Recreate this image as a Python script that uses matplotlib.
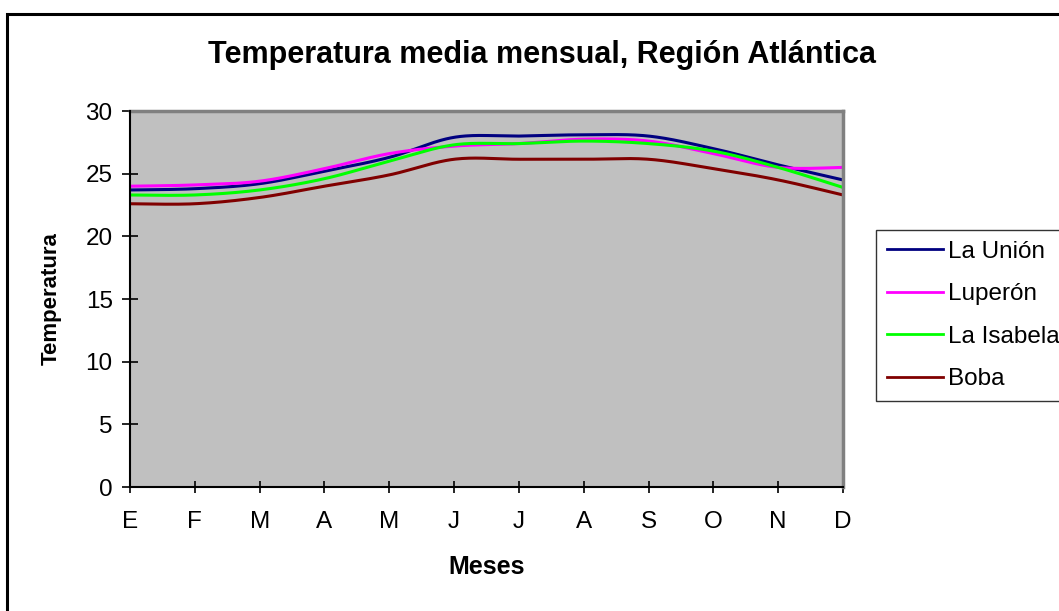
#!/usr/bin/env python3
"""Temperatura media mensual, Región Atlántica (Excel-style line chart)."""
import matplotlib
matplotlib.use("Agg")
import matplotlib.pyplot as plt
import numpy as np
from matplotlib.lines import Line2D
from matplotlib.patches import Rectangle

months = ["E", "F", "M", "A", "M", "J", "J", "A", "S", "O", "N", "D"]
la_union = [23.7, 23.8, 24.2, 25.2, 26.3, 27.9, 28.0, 28.1, 28.0, 27.0, 25.7, 24.5]
luperon = [24.0, 24.1, 24.4, 25.4, 26.6, 27.2, 27.4, 27.75, 27.6, 26.6, 25.5, 25.5]
la_isabela = [23.3, 23.3, 23.7, 24.6, 26.0, 27.3, 27.4, 27.6, 27.4, 26.8, 25.5, 23.9]
boba = [22.6, 22.6, 23.1, 24.0, 24.9, 26.15, 26.15, 26.15, 26.15, 25.4, 24.5, 23.3]

series = [
    ("La Unión", la_union, "#000080"),
    ("Luperón", luperon, "#ff00ff"),
    ("La Isabela", la_isabela, "#00ff00"),
    ("Boba", boba, "#800000"),
]

W, H = 1059, 611


def smooth(y, n=40):
    """Excel-like smoothed line: cubic Bezier segments, Catmull-Rom tangents."""
    y = np.asarray(y, dtype=float)
    x = np.arange(len(y), dtype=float)
    xs, ys = [], []
    for i in range(len(y) - 1):
        p0 = np.array([x[max(i - 1, 0)], y[max(i - 1, 0)]])
        p1 = np.array([x[i], y[i]])
        p2 = np.array([x[i + 1], y[i + 1]])
        p3 = np.array([x[min(i + 2, len(y) - 1)], y[min(i + 2, len(y) - 1)]])
        c1 = p1 + (p2 - p0) / 6
        c2 = p2 - (p3 - p1) / 6
        t = np.linspace(0, 1, n)[:, None]
        pts = ((1 - t) ** 3) * p1 + 3 * ((1 - t) ** 2) * t * c1 + 3 * (1 - t) * t ** 2 * c2 + t ** 3 * p2
        xs.append(pts[:, 0])
        ys.append(pts[:, 1])
    return np.concatenate(xs), np.concatenate(ys)


plt.rcParams["font.family"] = ["Liberation Sans", "DejaVu Sans"]

fig = plt.figure(figsize=(W / 100, H / 100), dpi=100)
ax = fig.add_axes([130 / W, 1 - 487 / H, (843 - 130) / W, (487 - 111) / H])
ax.set_facecolor("#c0c0c0")

for name, vals, color in series:
    sx, sy = smooth(vals)
    ax.plot(sx, sy, color=color, lw=2.2, label=name, solid_capstyle="butt")

ax.set_xlim(0, len(months) - 1)
ax.set_ylim(0, 30)
ax.set_xticks(range(len(months)))
ax.set_xticklabels(months)
ax.set_yticks(range(0, 31, 5))

for side in ("top", "right"):
    ax.spines[side].set_color("#808080")
    ax.spines[side].set_linewidth(2.5)
for side in ("left", "bottom"):
    ax.spines[side].set_color("black")
    ax.spines[side].set_linewidth(1.5)
    ax.spines[side].set_zorder(5)

ax.tick_params(axis="y", direction="inout", length=11, width=1.2, pad=7, labelsize=17.5)
ax.tick_params(axis="x", direction="inout", length=8, width=1.2, pad=13, labelsize=17.5)

ax.set_xlabel("Meses", fontsize=18, fontweight="bold", labelpad=16)
ax.set_ylabel("Temperatura", fontsize=16, fontweight="bold", va="center")
ax.yaxis.set_label_coords((51 - 130) / (843 - 130), 0.5)

fig.text(542 / W, 1 - 55 / H, "Temperatura media mensual, Región Atlántica",
         ha="center", va="center", fontsize=22, fontweight="bold")

handles = [Line2D([0], [0], color=c, lw=2) for _, _, c in series]
leg = fig.legend(handles, [s[0] for s in series], loc="upper left",
                 bbox_to_anchor=(876 / W, 1 - 230 / H), fontsize=17.5,
                 frameon=True, fancybox=False, handlelength=2.3, handletextpad=0.2,
                 labelspacing=0.84, borderpad=0.45, borderaxespad=0)
leg.get_frame().set_edgecolor("black")
leg.get_frame().set_linewidth(1.0)

# outer chart border (runs off the right and bottom edges)
fig.patches.append(Rectangle((7 / W, -0.1), 1.2, 1 - 14 / H + 0.1,
                             transform=fig.transFigure, fill=False,
                             edgecolor="black", lw=2.2, clip_on=False))

fig.savefig("out.png", dpi=100)
